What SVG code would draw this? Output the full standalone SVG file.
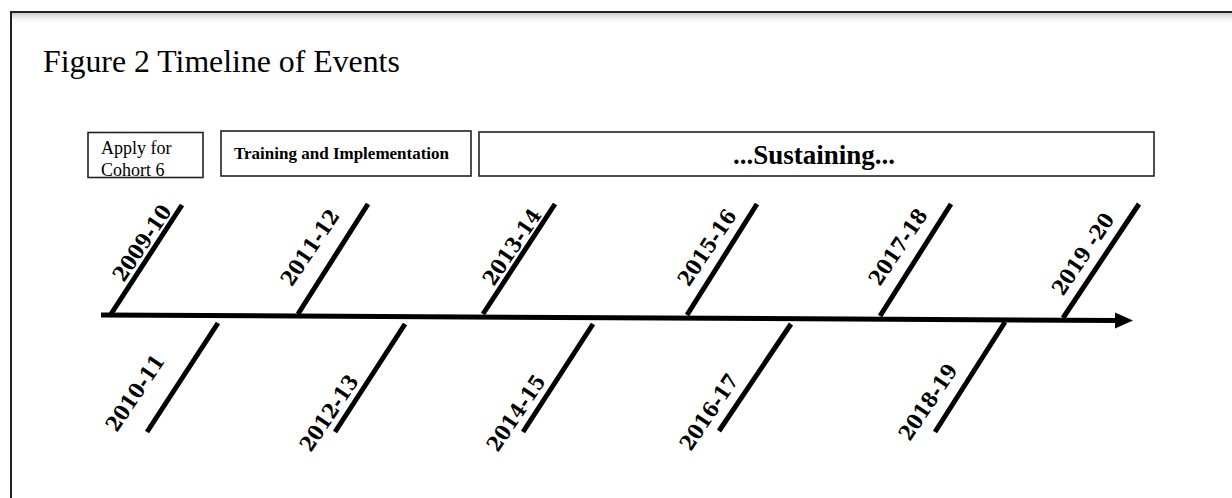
<svg xmlns="http://www.w3.org/2000/svg" width="1232" height="498" viewBox="0 0 1232 498">
<defs>
<linearGradient id="shadow" x1="0" y1="0" x2="0" y2="1">
<stop offset="0" stop-color="#bdbdbd" stop-opacity="0.8"/>
<stop offset="1" stop-color="#ffffff" stop-opacity="0"/>
</linearGradient>
<marker id="arrow" markerUnits="userSpaceOnUse" markerWidth="20" markerHeight="18" refX="2" refY="8" orient="auto">
<path d="M0,0 L18,8 L0,16 Z" fill="#000"/>
</marker>
<style>
.box{fill:#fff;stroke:#222;stroke-width:1.6}
.tick{stroke:#000;stroke-width:5;fill:none}
.lbl{font-family:"DejaVu Serif Condensed","DejaVu Serif","Liberation Serif",serif;font-stretch:condensed;font-weight:bold;font-size:21px;fill:#000}
.boxtxt{font-family:"Liberation Serif","Times New Roman",serif;fill:#000}
</style>
</defs>
<rect x="0" y="0" width="1232" height="498" fill="#fff"/>
<rect x="12" y="13" width="1230" height="11" fill="url(#shadow)"/>
<rect x="11" y="12" width="1240" height="500" fill="none" stroke="#222" stroke-width="2"/>
<text x="43" y="72" font-family="'Liberation Serif','Times New Roman',serif" font-size="31.8" fill="#000">Figure 2 Timeline of Events</text>

<g id="box-apply">
<rect class="box" x="88" y="132.5" width="115" height="45"/>
<text class="boxtxt" x="101" y="154" font-size="18">Apply for</text>
<text class="boxtxt" x="101" y="175.5" font-size="18">Cohort 6</text>
</g>
<g id="box-training">
<rect class="box" x="221" y="131" width="250" height="45"/>
<text class="boxtxt" x="234" y="159" font-size="17" font-weight="bold">Training and Implementation</text>
</g>
<g id="box-sustaining">
<rect class="box" x="479" y="132" width="675" height="44"/>
<text class="boxtxt" x="814" y="164" font-size="27" font-weight="bold" text-anchor="middle">...Sustaining...</text>
</g>

<g id="connectors">
<line x1="101" y1="315" x2="1117" y2="320.5" stroke="#000" stroke-width="5" marker-end="url(#arrow)"/>
<line class="tick" x1="111" y1="314" x2="182" y2="205"/>
<line class="tick" x1="298" y1="314" x2="368" y2="204"/>
<line class="tick" x1="483" y1="314" x2="555" y2="204"/>
<line class="tick" x1="687" y1="315" x2="757" y2="204"/>
<line class="tick" x1="880" y1="316" x2="951" y2="204"/>
<line class="tick" x1="1063" y1="318" x2="1139" y2="204"/>
<line class="tick" x1="218" y1="323" x2="147" y2="432"/>
<line class="tick" x1="405" y1="324" x2="335" y2="432"/>
<line class="tick" x1="593" y1="324" x2="523" y2="432"/>
<line class="tick" x1="791" y1="324" x2="719" y2="431"/>
<line class="tick" x1="1005" y1="322" x2="935" y2="432"/>
</g>

<g id="y2009"><text class="lbl" transform="translate(142,243) rotate(-56)" text-anchor="middle" dy="0.35em">2009-10</text></g>
<g id="y2011"><text class="lbl" transform="translate(310,247.5) rotate(-56)" text-anchor="middle" dy="0.35em">2011-12</text></g>
<g id="y2013"><text class="lbl" transform="translate(512,247) rotate(-56)" text-anchor="middle" dy="0.35em">2013-14</text></g>
<g id="y2015"><text class="lbl" transform="translate(707,247.5) rotate(-56)" text-anchor="middle" dy="0.35em">2015-16</text></g>
<g id="y2017"><text class="lbl" transform="translate(898,247) rotate(-56)" text-anchor="middle" dy="0.35em">2017-18</text></g>
<g id="y2019"><text class="lbl" transform="translate(1083,254) rotate(-56)" text-anchor="middle" dy="0.35em">2019 -20</text></g>
<g id="y2010"><text class="lbl" transform="translate(135,393) rotate(-56)" text-anchor="middle" dy="0.35em">2010-11</text></g>
<g id="y2012"><text class="lbl" transform="translate(329,413) rotate(-56)" text-anchor="middle" dy="0.35em">2012-13</text></g>
<g id="y2014"><text class="lbl" transform="translate(516,413) rotate(-56)" text-anchor="middle" dy="0.35em">2014-15</text></g>
<g id="y2016"><text class="lbl" transform="translate(709,412) rotate(-56)" text-anchor="middle" dy="0.35em">2016-17</text></g>
<g id="y2018"><text class="lbl" transform="translate(928,402) rotate(-56)" text-anchor="middle" dy="0.35em">2018-19</text></g>
</svg>
